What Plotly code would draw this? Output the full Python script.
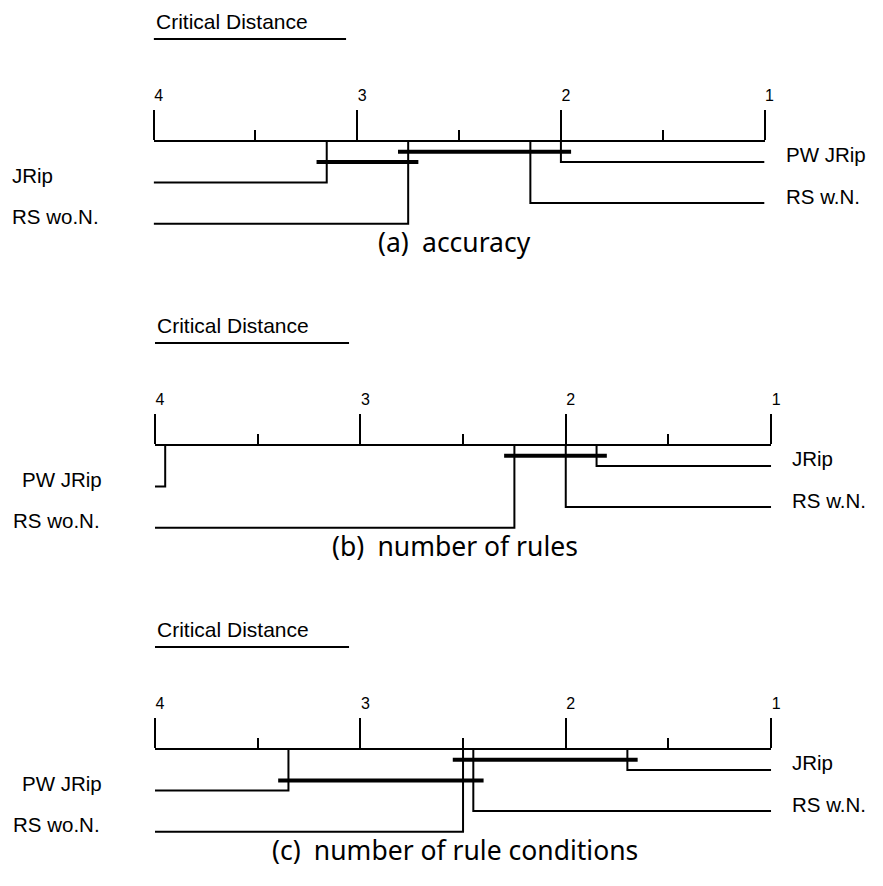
import plotly.graph_objects as go

W, H = 883, 886

# ---------------- data ----------------
methods = ["PW JRip", "JRip", "RS w.N.", "RS wo.N."]
ranks_accuracy = [2.00, 3.15, 2.15, 2.75]
ranks_rules = [3.95, 1.85, 2.00, 2.25]
ranks_conditions = [3.35, 1.70, 2.45, 2.50]
cliques_accuracy = [[3.15, 2.75], [2.75, 2.00]]
cliques_rules = [[2.25, 1.85]]
cliques_conditions = [[3.35, 2.45], [2.50, 1.70]]
critical_distance = 0.945
rank_ticks = [4, 3, 2, 1]
captions = ["(a)\u2002accuracy", "(b)\u2002number of rules", "(c)\u2002number of rule conditions"]

# ---------------- layout helpers (pixels) ----------------
panels = [
    dict(ranks=ranks_accuracy, cliques=cliques_accuracy, x4=155.4, x1=773.3, axis_y=141.3,
         clique_levels=[2, 1], left_x=[10.0, 10.0]),
    dict(ranks=ranks_rules, cliques=cliques_rules, x4=156.7, x1=780.0, axis_y=445.3,
         clique_levels=[1], left_x=[20.5, 11.0]),
    dict(ranks=ranks_conditions, cliques=cliques_conditions, x4=156.7, x1=780.0, axis_y=749.3,
         clique_levels=[3, 1], left_x=[20.5, 11.0]),
]
ROW = 20.6
CLQ = 10.4
SIDE = 0.05
LBL_FONT = dict(family="Liberation Sans, Arial, sans-serif", size=20.5, color="black")

fig = go.Figure()
annotations = []
layout_axes = {}

for k, p in enumerate(panels):
    xname = "x" if k == 0 else f"x{k+1}"
    xlay = "xaxis" if k == 0 else f"xaxis{k+1}"
    ay = p["axis_y"]
    lo, hi = max(rank_ticks), min(rank_ticks)

    layout_axes[xlay] = dict(
        domain=[p["x4"] / W, p["x1"] / W], range=[lo, hi],
        anchor="free", position=1 - ay / H, side="top",
        showline=True, linewidth=2, linecolor="black",
        ticks="outside", ticklen=30, tickwidth=2, tickcolor="black",
        tickvals=rank_ticks, ticktext=[str(t) for t in rank_ticks],
        tickfont=dict(family="Liberation Sans, Arial, sans-serif", size=16, color="black"),
        ticklabelshift=-5, ticklabelstandoff=3,
        minor=dict(tickvals=[3.5, 2.5, 1.5], ticklen=10, tickwidth=2, tickcolor="black", ticks="outside"),
        showgrid=False, zeroline=False, fixedrange=True,
    )

    # order by rank: best, worst, 2nd best, 2nd worst
    order = sorted(range(len(methods)), key=lambda i: p["ranks"][i])
    rows = [order[0], order[-1], order[1], order[-2]]
    left_count = 0
    for row, mi in enumerate(rows):
        r = p["ranks"][mi]
        ry = ay + (row + 1) * ROW
        right = (row % 2 == 0)
        end = hi if right else lo
        fig.add_trace(go.Scatter(
            x=[r, r, end], y=[ay, ry, ry], xaxis=xname, yaxis="y",
            mode="lines", line=dict(color="black", width=2), hoverinfo="skip", showlegend=False))
        if right:
            lx = (p["x1"] + 19.5) / W
        else:
            lx = p["left_x"][left_count] / W
            left_count += 1
        annotations.append(dict(
            x=lx, xref="paper", xanchor="left",
            y=ry - 7.1, yref="y", yanchor="middle",
            text=methods[mi], showarrow=False, font=LBL_FONT))

    # cliques
    for (a, b), lev in zip(p["cliques"], p["clique_levels"]):
        cy = ay + lev * CLQ
        fig.add_trace(go.Scatter(
            x=[a + SIDE, b - SIDE], y=[cy, cy], xaxis=xname, yaxis="y",
            mode="lines", line=dict(color="black", width=4), hoverinfo="skip", showlegend=False))

    # critical distance
    cdy = ay - 102.3
    fig.add_trace(go.Scatter(
        x=[lo, lo - critical_distance], y=[cdy, cdy], xaxis=xname, yaxis="y",
        mode="lines", line=dict(color="black", width=2), hoverinfo="skip", showlegend=False))
    annotations.append(dict(
        x=lo, xref=xname, xanchor="left", y=ay - 120.3, yref="y", yanchor="middle",
        text="Critical Distance", showarrow=False,
        font=dict(family="Liberation Sans, Arial, sans-serif", size=21, color="black")))

    # caption
    annotations.append(dict(
        x=460 / W, xref="paper", xanchor="center", y=ay + 101, yref="y", yanchor="middle",
        text=captions[k], showarrow=False,
        font=dict(family="Noto Sans, Open Sans, sans-serif", size=26.5, color="black")))

fig.update_layout(
    width=W, height=H, margin=dict(l=0, r=0, t=0, b=0),
    paper_bgcolor="white", plot_bgcolor="rgba(0,0,0,0)",
    yaxis=dict(range=[H, 0], domain=[0, 1], visible=False, fixedrange=True),
    annotations=annotations, showlegend=False,
    **layout_axes,
)

fig.write_html("out.html", config={"displayModeBar": False})
